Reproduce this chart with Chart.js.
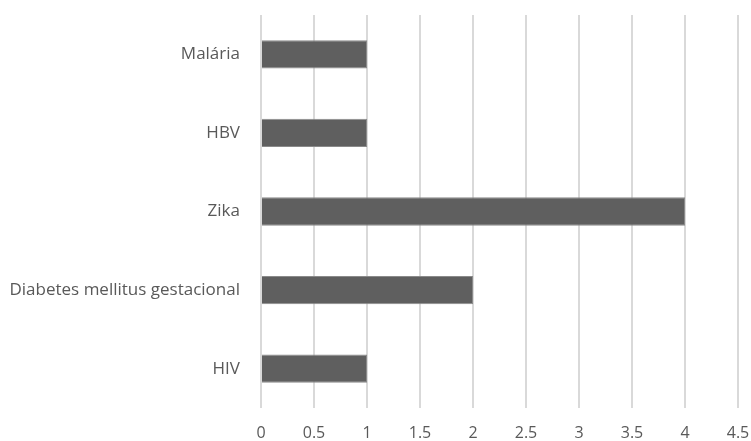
<!DOCTYPE html>
<html>
<head>
<meta charset="utf-8">
<script src="https://cdn.jsdelivr.net/npm/chart.js@4/dist/chart.umd.min.js"></script>
<style>
  html, body { margin: 0; padding: 0; background: #fff; }
  #wrap { width: 751px; height: 441px; }
</style>
</head>
<body>
<div id="wrap"><canvas id="bar_chart"></canvas></div>
<script>
// dados do gráfico
var categorias = ['Malária', 'HBV', 'Zika', 'Diabetes mellitus gestacional', 'HIV'];
var valores = [1, 1, 4, 2, 1];
var xMin = 0, xMax = 4.5, xPasso = 0.5;

var corTexto = '#595959';

const ctx = document.getElementById('bar_chart');
new Chart(ctx, {
	type: 'bar',
	data: {
		labels: categorias,
		datasets: [{
			data: valores,
			backgroundColor: '#5f5f5f',
			borderColor: '#8a8a8a',
			borderWidth: 1,
			categoryPercentage: 1,
			barPercentage: 0.36
		}]
	},
	options: {
		indexAxis: 'y',
		responsive: true,
		maintainAspectRatio: false,
		animation: false,
		layout: { padding: { top: 15, right: 0, left: 0, bottom: 0 } },
		plugins: {
			legend: { display: false },
			tooltip: { enabled: false }
		},
		scales: {
			x: {
				min: xMin,
				max: xMax,
				ticks: {
					stepSize: xPasso,
					color: corTexto,
					padding: 16,
					font: { family: 'Open Sans', size: 16 },
					callback: function (v) { return String(v); }
				},
				grid: { color: '#d9d9d9', lineWidth: 2, drawTicks: false },
				border: { display: false },
				afterFit: function (scale) {
					scale.height = 33;
					scale.paddingLeft = 0;
					scale.paddingRight = 13;
				}
			},
			y: {
				ticks: {
					color: corTexto,
					padding: 21,
					font: { family: 'Open Sans', size: 17 }
				},
				grid: { display: false, drawTicks: false },
				border: { display: false },
				afterFit: function (scale) {
					scale.width = 261;
					scale.paddingTop = 0;
					scale.paddingBottom = 0;
				}
			}
		}
	}
});
</script>
</body>
</html>
